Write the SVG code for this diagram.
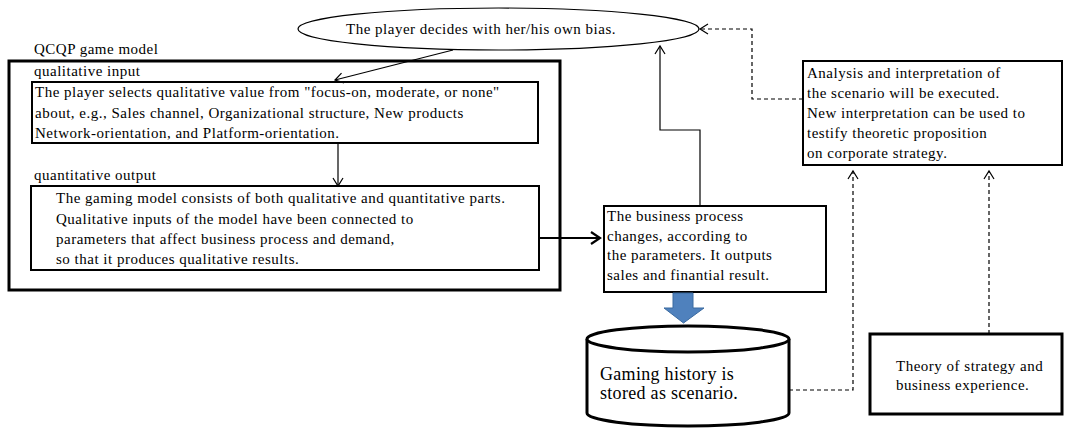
<svg xmlns="http://www.w3.org/2000/svg" width="1065" height="433" viewBox="0 0 1065 433">
<defs>
<style>
text{font-family:"Liberation Serif","Times New Roman",serif;font-size:15px;fill:#000;letter-spacing:0.5px}
.big{font-size:18px;letter-spacing:0.3px}
.box{fill:#fff;stroke:#000;stroke-width:2}
.thick{fill:none;stroke:#000;stroke-width:3}
.conn{fill:none;stroke:#000;stroke-width:1.2}
.dash{fill:none;stroke:#000;stroke-width:1.2;stroke-dasharray:4 3}
</style>
<marker id="open" markerWidth="12" markerHeight="12" refX="10" refY="6" orient="auto" markerUnits="userSpaceOnUse">
<path d="M2,1 L10,6 L2,11" fill="none" stroke="#000" stroke-width="1.2"/>
</marker>
<marker id="openBold" markerWidth="14" markerHeight="14" refX="12" refY="7" orient="auto" markerUnits="userSpaceOnUse">
<path d="M3,1 L12,7 L3,13" fill="none" stroke="#000" stroke-width="2.2"/>
</marker>
</defs>
<rect width="1065" height="433" fill="#fff"/>

<g id="bias">
<ellipse cx="498.5" cy="29" rx="200.5" ry="21" fill="#fff" stroke="#000" stroke-width="1.2"/>
<text x="346" y="34">The player decides with her/his own bias.</text>
</g>

<g id="qcqp-model">
<text x="34" y="54">QCQP game model</text>
<rect x="9" y="61" width="551" height="229" class="thick"/>
<text x="34" y="76">qualitative input</text>
<text x="34" y="180">quantitative output</text>
</g>

<g id="qualitative-input">
<rect x="32" y="82" width="506" height="61" class="box"/>
<text x="35" y="97">The player selects qualitative value from "focus-on, moderate, or none"</text>
<text x="35" y="117.5">about, e.g., Sales channel, Organizational structure, New products</text>
<text x="35" y="138">Network-orientation, and Platform-orientation.</text>
</g>

<g id="quantitative-output">
<rect x="31" y="186" width="508" height="84" class="box"/>
<text x="56" y="203">The gaming model consists of both qualitative and quantitative parts.</text>
<text x="56" y="223.5">Qualitative inputs of the model have been connected to</text>
<text x="56" y="244">parameters that affect business process and demand,</text>
<text x="56" y="264">so that it produces qualitative results.</text>
</g>

<g id="business-process">
<rect x="604" y="206" width="222" height="86" class="box"/>
<text x="607" y="221">The business process</text>
<text x="607" y="240.5">changes, according to</text>
<text x="607" y="260">the parameters. It outputs</text>
<text x="607" y="279.5">sales and finantial result.</text>
</g>

<g id="gaming-history">
<path d="M587,339 L587,413 A101,13 0 0 0 789,413 L789,339" fill="#fff" stroke="#000" stroke-width="3"/>
<ellipse cx="688" cy="339" rx="101" ry="13" fill="#fff" stroke="#000" stroke-width="3"/>
<text class="big" x="600" y="380">Gaming history is</text>
<text class="big" x="600" y="399">stored as scenario.</text>
</g>

<g id="analysis">
<rect x="803" y="61" width="259" height="104" class="box"/>
<text x="807" y="78">Analysis and interpretation of</text>
<text x="807" y="98">the scenario will be executed.</text>
<text x="807" y="118">New interpretation can be used to</text>
<text x="807" y="138">testify theoretic proposition</text>
<text x="807" y="158">on corporate strategy.</text>
</g>

<g id="theory">
<rect x="870" y="334" width="192" height="80" fill="#fff" stroke="#000" stroke-width="3"/>
<text x="896" y="371">Theory of strategy and</text>
<text x="896" y="390">business experience.</text>
</g>

<g id="connectors">
<line x1="453" y1="50" x2="335" y2="80" class="conn" marker-end="url(#open)"/>
<line x1="338" y1="143" x2="338" y2="186" class="conn" marker-end="url(#open)"/>
<line x1="539" y1="238" x2="600" y2="238" fill="none" stroke="#000" stroke-width="2.2" marker-end="url(#openBold)"/>
<polyline points="700,206 700,130 660,130 660,46" class="conn" marker-end="url(#open)"/>
<polygon points="673,293 693,293 693,308 704,308 683.5,323 664,308 673,308" fill="#4F81BD" stroke="#3A6AA0" stroke-width="1"/>
<polyline points="803,99 752,99 752,29 700,29" class="dash" marker-end="url(#open)"/>
<polyline points="789,390 853,390 853,171" class="dash" marker-end="url(#open)"/>
<polyline points="989,334 989,171" class="dash" marker-end="url(#open)"/>
</g>
</svg>
